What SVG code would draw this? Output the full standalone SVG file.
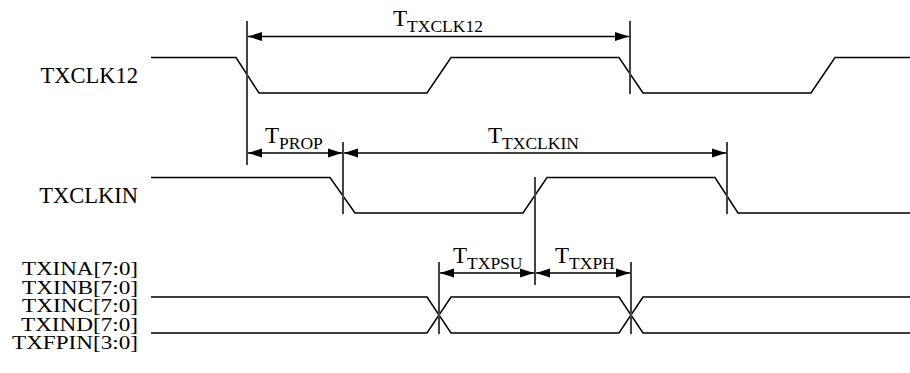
<svg xmlns="http://www.w3.org/2000/svg" width="910" height="373" viewBox="0 0 910 373">
<defs>
<marker id="ah" viewBox="0 0 14 10" refX="14" refY="5" markerWidth="14" markerHeight="10" markerUnits="userSpaceOnUse" orient="auto-start-reverse">
<path d="M0,0.5 L14,5 L0,9.5 Z" fill="#000"/>
</marker>
<style>
.w{fill:none;stroke:#000;stroke-width:1.5;stroke-linejoin:miter}
.ref{stroke:#444;stroke-width:2}
.dim{stroke:#000;stroke-width:1.4;marker-start:url(#ah);marker-end:url(#ah)}
.lbl{font-family:"Liberation Serif","Times New Roman",serif;font-size:22.5px;fill:#000;text-anchor:end}
.bus{font-family:"Liberation Serif","Times New Roman",serif;font-size:19.5px;fill:#000;text-anchor:end}
.t{font-family:"Liberation Serif","Times New Roman",serif;font-size:23px;fill:#000}
.s{font-size:17.5px}
</style>
</defs>
<rect width="910" height="373" fill="#fff"/>
<g id="TXCLK12">
<text class="lbl" x="138" y="83">TXCLK12</text>
<path class="w" d="M151,57.5 H236 L259,93 H427 L451,57.5 H619 L643,93 H811 L835,57.5 H910"/>
</g>
<g id="TXCLKIN">
<text class="lbl" x="138" y="203">TXCLKIN</text>
<path class="w" d="M151,177.5 H330 L355,213 H523 L547,177.5 H715 L738,213 H910"/>
</g>
<g id="TXDATA">
<text class="bus" x="138" y="275" textLength="116" lengthAdjust="spacingAndGlyphs">TXINA[7:0]</text>
<text class="bus" x="138" y="293.5" textLength="116" lengthAdjust="spacingAndGlyphs">TXINB[7:0]</text>
<text class="bus" x="138" y="312" textLength="116" lengthAdjust="spacingAndGlyphs">TXINC[7:0]</text>
<text class="bus" x="138" y="330.5" textLength="117" lengthAdjust="spacingAndGlyphs">TXIND[7:0]</text>
<text class="bus" x="138" y="349" textLength="126" lengthAdjust="spacingAndGlyphs">TXFPIN[3:0]</text>
<path class="w" d="M151,297 H427 L451,333 H619 L643,297 H910"/>
<path class="w" d="M151,333 H427 L451,297 H619 L643,333 H910"/>
</g>
<g id="connectors">
<line class="ref" x1="247" y1="21" x2="247" y2="165"/>
<line class="ref" x1="630" y1="21" x2="630" y2="94"/>
<line class="ref" x1="343" y1="142" x2="343" y2="214"/>
<line class="ref" x1="727" y1="142" x2="727" y2="214"/>
<line class="ref" x1="535" y1="177" x2="535" y2="285"/>
<line class="ref" x1="439" y1="262" x2="439" y2="334"/>
<line class="ref" x1="631" y1="262" x2="631" y2="334"/>
<line class="dim" x1="248" y1="36.5" x2="629" y2="36.5"/>
<line class="dim" x1="248" y1="153" x2="342" y2="153"/>
<line class="dim" x1="344" y1="153" x2="726" y2="153"/>
<line class="dim" x1="440" y1="273" x2="534" y2="273"/>
<line class="dim" x1="536" y1="273" x2="630" y2="273"/>
</g>
<g id="labels">
<text class="t" x="393" y="26">T<tspan class="s" dy="6">TXCLK12</tspan></text>
<text class="t" x="265" y="143">T<tspan class="s" dy="6">PROP</tspan></text>
<text class="t" x="488" y="143">T<tspan class="s" dy="6">TXCLKIN</tspan></text>
<text class="t" x="453" y="263">T<tspan class="s" dy="5.5">TXPSU</tspan></text>
<text class="t" x="555" y="263">T<tspan class="s" dy="5.5">TXPH</tspan></text>
</g>
</svg>
